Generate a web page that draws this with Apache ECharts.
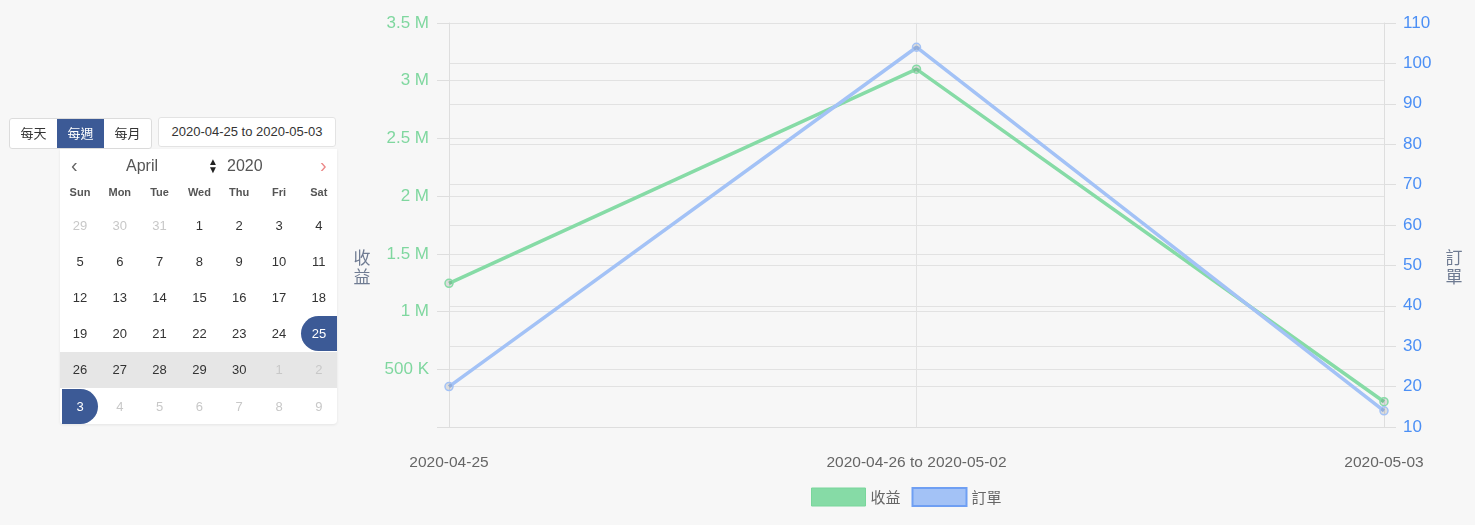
<!DOCTYPE html>
<html><head><meta charset="utf-8">
<script src="https://cdn.jsdelivr.net/npm/echarts@6/dist/echarts.min.js"></script>
<style>
html,body{margin:0;padding:0;background:#f7f7f7;width:1475px;height:525px;overflow:hidden;font-family:"Liberation Sans",Arial,"Noto Sans CJK TC",sans-serif;}
#chart{position:absolute;left:0;top:0;width:1475px;height:525px;}
.ui{position:absolute;z-index:5;}
.btns{left:9px;top:118px;height:29px;display:flex;border:1px solid #dcdcdc;border-radius:3px;background:#fff;overflow:hidden;}
.btns div{width:47px;line-height:27px;text-align:center;font-size:13px;color:#333;font-family:"Noto Sans CJK TC",sans-serif;}
.btns div.on{background:#3c5a96;color:#fff;}
.date{left:158px;top:117px;width:178px;height:30px;border:1px solid #e3e3e3;border-radius:3px;background:#fff;line-height:28px;text-align:center;font-size:13px;color:#333;box-sizing:border-box;}
.cal{left:60px;top:149px;width:277px;height:275px;background:#fff;border-radius:0 0 4px 4px;box-shadow:0 1px 3px rgba(0,0,0,0.08);}
.cal .h{position:absolute;top:8px;font-size:16px;color:#555;}
.cal .wd{position:absolute;top:37px;width:40px;text-align:center;font-size:11px;font-weight:bold;color:#555;}
.cal .d{position:absolute;width:36px;height:35px;line-height:35px;text-align:center;font-size:13px;color:#333;}
.cal .d.o{color:#c8c8c8;}
.cal .d.s{background:#3c5a96;color:#fff;}
.cal .row{position:absolute;left:0;width:277px;height:36px;background:#e6e6e6;}
</style></head>
<body>
<div id="chart"></div>
<div class="ui btns"><div>每天</div><div class="on">每週</div><div>每月</div></div>
<div class="ui date">2020-04-25 to 2020-05-03</div>
<div class="ui cal" id="cal"></div>
<script>
// ---- chart data ----
const categories = ['2020-04-25', '2020-04-26 to 2020-05-02', '2020-05-03'];
const revenue = [1245000, 3100000, 219000];
const orders = [20, 104, 14];
const seriesNames = ['收益', '訂單'];
const axisTitles = ['收\n益', '訂\n單'];
// ---- calendar widget data ----
const weekdays = ['Sun','Mon','Tue','Wed','Thu','Fri','Sat'];
const calWeeks = [
  [29,30,31,1,2,3,4],
  [5,6,7,8,9,10,11],
  [12,13,14,15,16,17,18],
  [19,20,21,22,23,24,25],
  [26,27,28,29,30,1,2],
  [3,4,5,6,7,8,9]
];
const otherMonth = [[0,0],[0,1],[0,2],[4,5],[4,6],[5,1],[5,2],[5,3],[5,4],[5,5],[5,6]];

// build calendar
(function(){
  const cal = document.getElementById('cal');
  let html = '';
  html += '<div class="h" style="left:11px;font-size:20px;color:#666;top:5px">&#x2039;</div>';
  html += '<div class="h" style="left:66px;">April</div>';
  html += '<div class="h" style="left:148px;font-size:10px;top:9px;line-height:8px;color:#222">&#9650;<br>&#9660;</div>';
  html += '<div class="h" style="left:167px;">2020</div>';
  html += '<div class="h" style="left:260px;font-size:20px;color:#ec8a8a;top:5px">&#x203A;</div>';
  const cx = i => 20 + i*39.8;
  const cy = r => 76 + r*36.2;
  weekdays.forEach((w,i)=>{ html += `<div class="wd" style="left:${cx(i)-20}px">${w}</div>`; });
  html += `<div class="row" style="top:${cy(4)-17.5}px"></div>`;
  calWeeks.forEach((wk,r)=>{
    wk.forEach((d,i)=>{
      let cls = 'd';
      if (otherMonth.some(p=>p[0]===r&&p[1]===i)) cls += ' o';
      let st = `left:${cx(i)-18}px;top:${cy(r)-17.5}px;`;
      if (r===3 && i===6) { cls='d s'; st = `left:241px;top:${cy(r)-17.5}px;border-radius:18px 0 0 18px;`; }
      if (r===5 && i===0) { cls='d s'; st = `left:2px;top:${cy(r)-17.5}px;border-radius:0 18px 18px 0;`; }
      html += `<div class="${cls}" style="${st}">${d}</div>`;
    });
  });
  cal.innerHTML = html;
})();

const green = '#86dba6', blue = '#a3c2f6';
const chart = echarts.init(document.getElementById('chart'), null, {renderer:'canvas'});
const fmtRev = v => v === 0 ? '' : (v >= 1e6 ? (v/1e6) + ' M' : (v/1e3) + ' K');
const titleStyle = {fill: '#6f7b92', fontSize: 17, lineHeight: 19, align: 'center', verticalAlign: 'top', fontFamily: '"Noto Sans CJK TC", sans-serif'};
chart.setOption({
  backgroundColor: '#f7f7f7',
  animation: false,
  textStyle: {fontFamily: '"Liberation Sans", Arial, "Noto Sans CJK TC", sans-serif'},
  grid: {left: 449, right: 91, top: 23, bottom: 98},
  graphic: [
    {type: 'text', x: 362, y: 248, style: Object.assign({text: axisTitles[0]}, titleStyle)},
    {type: 'text', x: 1454, y: 248, style: Object.assign({text: axisTitles[1]}, titleStyle)}
  ],
  legend: {
    left: 806, top: 482, itemWidth: 54, itemHeight: 18, itemGap: 11, icon: 'rect',
    textStyle: {fontSize: 15, color: '#666', fontFamily: '"Noto Sans CJK TC", sans-serif'},
    data: [
      {name: seriesNames[0], itemStyle: {color: green, borderColor: '#79d69b', borderWidth: 1}},
      {name: seriesNames[1], itemStyle: {color: blue, borderColor: '#6f9ff3', borderWidth: 2}}
    ]
  },
  xAxis: {
    type: 'category', data: categories, boundaryGap: false,
    axisLine: {show: true, lineStyle: {color: '#dedede'}},
    axisTick: {show: false},
    axisLabel: {color: '#666', fontSize: 15.5, margin: 28},
    splitLine: {show: true, lineStyle: {color: '#e2e2e2'}}
  },
  yAxis: [
    {
      type: 'value', min: 0, max: 3500000, interval: 500000, position: 'left',
      axisLine: {show: true, lineStyle: {color: '#dedede'}},
      axisTick: {show: true, length: 12, lineStyle: {color: '#dedede'}},
      axisLabel: {color: '#7fd79f', fontSize: 17, margin: 20, formatter: fmtRev},
      splitLine: {show: true, lineStyle: {color: '#e2e2e2'}}
    },
    {
      type: 'value', min: 10, max: 110, interval: 10, position: 'right',
      axisLine: {show: true, lineStyle: {color: '#dedede'}},
      axisTick: {show: true, length: 12, lineStyle: {color: '#dedede'}},
      axisLabel: {color: '#4b8ff5', fontSize: 17, margin: 19},
      splitLine: {show: true, lineStyle: {color: '#e2e2e2'}}
    }
  ],
  series: [
    {
      name: seriesNames[0], type: 'line', yAxisIndex: 0, data: revenue,
      symbol: 'circle', symbolSize: 8,
      lineStyle: {color: green, width: 3.5},
      itemStyle: {color: 'rgba(0,0,0,0.1)', borderColor: green, borderWidth: 1.5}
    },
    {
      name: seriesNames[1], type: 'line', yAxisIndex: 1, data: orders,
      symbol: 'circle', symbolSize: 8,
      lineStyle: {color: blue, width: 3.5},
      itemStyle: {color: 'rgba(0,0,0,0.1)', borderColor: blue, borderWidth: 1.5}
    }
  ]
});
</script>
</body></html>
